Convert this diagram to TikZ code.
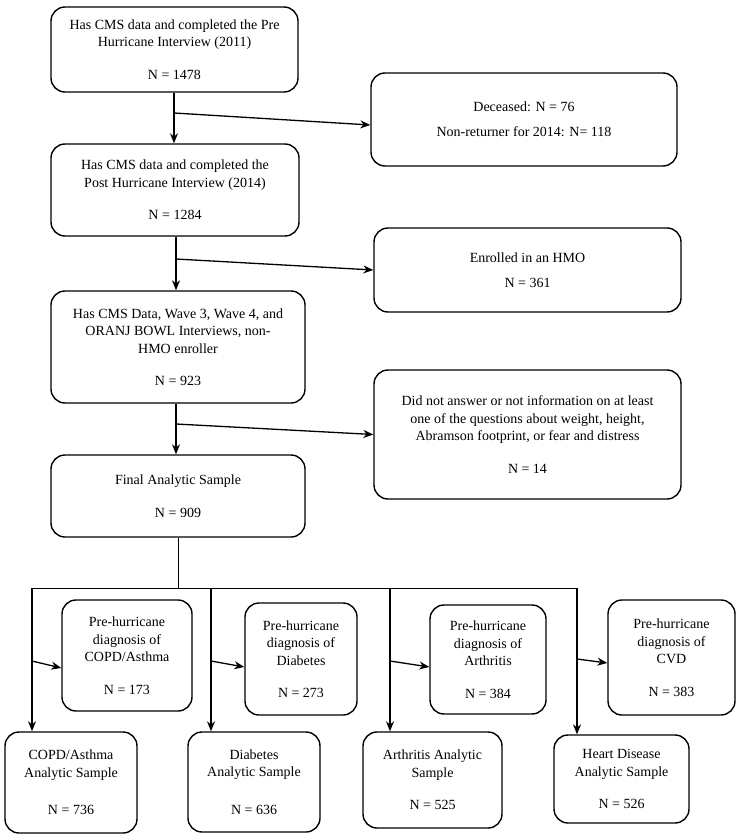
\documentclass[tikz,border=0pt]{standalone}
\usepackage{fontspec}
\setmainfont{Liberation Serif}
\usetikzlibrary{arrows.meta}
\begin{document}
\begin{tikzpicture}[x=1pt,y=-1pt,
 box/.style={draw, line width=1.4pt, rounded corners=14pt, align=center, inner sep=0pt, font=\fontsize{14}{17.5}\selectfont},
 arr/.style={line width=1.3pt, -{Stealth[length=10pt,width=8pt]}},
 bus/.style={line width=0.7pt}]
\useasboundingbox (0,0) rectangle (737,840);
% main column
\node[box, minimum width=247pt, minimum height=85pt] (A) at (174.5,49.5) {Has CMS data and completed the Pre\\Hurricane Interview (2011)\\[15pt]N = 1478};
\node[box, minimum width=306pt, minimum height=93pt] (Dec) at (524,119.5) {Deceased: N = 76\\[7.5pt]Non-returner for 2014: N= 118};
\node[box, minimum width=248pt, minimum height=92pt] (B) at (175,190) {Has CMS data and completed the\\Post Hurricane Interview (2014)\\[15pt]N = 1284};
\node[box, minimum width=307pt, minimum height=84pt] (Enr) at (527.5,270) {Enrolled in an HMO\\[7.5pt]N = 361};
\node[box, minimum width=254pt, minimum height=112pt] (C) at (178,347) {Has CMS Data, Wave 3, Wave 4, and\\ORANJ BOWL Interviews, non-\\HMO enroller\\[15pt]N = 923};
\node[box, minimum width=307pt, minimum height=129pt] (Dna) at (527.5,434.5) {Did not answer or not information on at least\\one of the questions about weight, height,\\Abramson footprint, or fear and distress\\[15pt]N = 14};
\node[box, minimum width=254pt, minimum height=82pt] (D) at (178,496) {Final Analytic Sample\\[15pt]N = 909};
% pre-hurricane boxes
\node[box, minimum width=130pt, minimum height=111pt] (P1) at (127,655.5) {Pre-hurricane\\diagnosis of\\COPD/Asthma\\[15pt]N = 173};
\node[box, minimum width=112pt, minimum height=112pt] (P2) at (301,659) {Pre-hurricane\\diagnosis of\\Diabetes\\[15pt]N = 273};
\node[box, minimum width=116pt, minimum height=109pt] (P3) at (488,659.5) {Pre-hurricane\\diagnosis of\\Arthritis\\[15pt]N = 384};
\node[box, minimum width=127pt, minimum height=115pt] (P4) at (671.5,657.5) {Pre-hurricane\\diagnosis of\\CVD\\[15pt]N = 383};
% analytic samples
\node[box, minimum width=132pt, minimum height=101pt] (Q1) at (71,782.5) {COPD/Asthma\\Analytic Sample\\[20pt]N = 736};
\node[box, minimum width=132pt, minimum height=100pt] (Q2) at (254,782) {Diabetes\\Analytic Sample\\[20pt]N = 636};
\node[box, minimum width=139pt, minimum height=96pt] (Q3) at (432.5,780) {Arthritis Analytic\\Sample\\[15pt]N = 525};
\node[box, minimum width=135pt, minimum height=88pt] (Q4) at (621.5,779) {Heart Disease\\Analytic Sample\\[15pt]N = 526};
% connectors main column
\coordinate (a1) at (174,113);
\draw[arr] (A.south -| a1) -- (a1 |- B.north);
\draw[arr] (a1) -- ([yshift=-5.5pt]Dec.west);
\coordinate (b1) at (176,259);
\draw[arr] (B.south -| b1) -- (b1 |- C.north);
\draw[arr] (b1) -- (Enr.west);
\coordinate (c1) at (176,424);
\draw[arr] (C.south -| c1) -- (c1 |- D.north);
\draw[arr] (c1) -- (Dna.west);
% distribution bus
\coordinate (h1) at (32,588);
\coordinate (h2) at (211,588);
\coordinate (h3) at (390,588);
\coordinate (h4) at (577,588);
\draw[bus] (D.south) -- (D.south |- h1);
\draw[bus] (h1) -- (h4);
\draw[arr] (h1) -- (h1 |- Q1.north);
\draw[arr] (h2) -- (h2 |- Q2.north);
\draw[arr] (h3) -- (h3 |- Q3.north);
\draw[arr] (h4) -- (h4 |- Q4.north);
\coordinate (k1) at (32,661);
\coordinate (k2) at (211,661);
\coordinate (k3) at (390,661);
\coordinate (k4) at (577,659);
\draw[arr] (k1) -- ([yshift=-12.5pt]P1.west);
\draw[arr] (k2) -- ([yshift=-8pt]P2.west);
\draw[arr] (k3) -- ([yshift=-7.5pt]P3.west);
\draw[arr] (k4) -- ([yshift=-5.5pt]P4.west);
\end{tikzpicture}
\end{document}
